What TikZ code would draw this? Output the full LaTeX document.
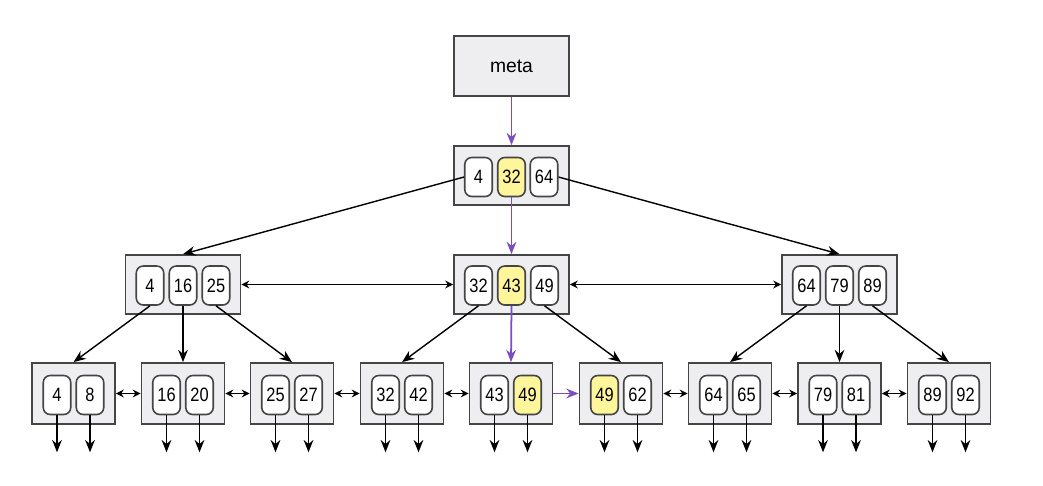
\documentclass[tikz,border=0pt]{standalone}
\usepackage{fontspec}
\setmainfont{Liberation Sans}
\newfontfamily\keyfont[FakeStretch=0.85]{Liberation Sans}
\usepackage{xcolor}
\usepackage{tikz}
\usetikzlibrary{arrows.meta}

\definecolor{boxfill}{HTML}{EEEEF0}
\definecolor{boxline}{HTML}{454545}
\definecolor{keyhot}{HTML}{FFF59A}
\definecolor{walkcol}{HTML}{7B4DBE}

\begin{document}
\begin{tikzpicture}[x=0.02cm, y=-0.02cm,
    box/.style={draw=boxline, fill=boxfill, line width=1pt, minimum width=2.3cm, minimum height=1.18cm, inner sep=0pt},
    leaf/.style={box, minimum width=1.66cm, minimum height=1.22cm},
    key/.style={draw=boxline, fill=white, line width=0.9pt, rounded corners=4pt, minimum width=0.55cm, minimum height=0.78cm, inner sep=0pt, font=\keyfont\fontsize{11}{11}\selectfont},
    hot/.style={key, fill=keyhot},
    link/.style={-{Stealth[length=7pt,width=5.5pt]}, line width=0.8pt},
    walk/.style={link, draw=walkcol, fill=walkcol, line width=1pt},
    twin/.style={{Stealth[length=4.5pt,width=4.5pt]}-{Stealth[length=4.5pt,width=4.5pt]}, line width=0.8pt}]
    \useasboundingbox (0,0) rectangle (1043,485);

    % Meta page
    \node[box, minimum height=1.2cm, font=\fontsize{11}{11}\selectfont] (meta) at (511.5,66) {meta};

    % Root
    \node[box] (root) at (511.5,175.5) {};
    \node[key] (r4) at (478.5,177) {4};
    \node[hot] (r32) at (511.5,177) {32};
    \node[key] (r64) at (544,177) {64};

    % Internal level
    \node[box] (inl) at (183,284.5) {};
    \node[key] (il4) at (150,285.5) {4};
    \node[key] (il16) at (183,285.5) {16};
    \node[key] (il25) at (216,285.5) {25};

    \node[box] (inm) at (511.5,284.5) {};
    \node[key] (im32) at (478.5,285.5) {32};
    \node[hot] (im43) at (511.5,285.5) {43};
    \node[key] (im49) at (544.5,285.5) {49};

    \node[box] (inr) at (839.5,284.5) {};
    \node[key] (ir64) at (806.5,285.5) {64};
    \node[key] (ir79) at (839.5,285.5) {79};
    \node[key] (ir89) at (872.5,285.5) {89};

    % Leaves
    \node[leaf] (lf1) at (73.5,393.5) {};
    \node[key] (lf1a) at (57,395) {4};
    \node[key] (lf1b) at (90,395) {8};
    \node[leaf] (lf2) at (183,393.5) {};
    \node[key] (lf2a) at (166.5,395) {16};
    \node[key] (lf2b) at (199.5,395) {20};
    \node[leaf] (lf3) at (292,393.5) {};
    \node[key] (lf3a) at (275.5,395) {25};
    \node[key] (lf3b) at (308.5,395) {27};
    \node[leaf] (lf4) at (402,393.5) {};
    \node[key] (lf4a) at (385.5,395) {32};
    \node[key] (lf4b) at (418.5,395) {42};
    \node[leaf] (lf5) at (511,393.5) {};
    \node[key] (lf5a) at (494.5,395) {43};
    \node[hot] (lf5b) at (527.5,395) {49};
    \node[leaf] (lf6) at (621,393.5) {};
    \node[hot] (lf6a) at (604.5,395) {49};
    \node[key] (lf6b) at (637.5,395) {62};
    \node[leaf] (lf7) at (730,393.5) {};
    \node[key] (lf7a) at (713.5,395) {64};
    \node[key] (lf7b) at (746.5,395) {65};
    \node[leaf] (lf8) at (839.5,393.5) {};
    \node[key] (lf8a) at (823,395) {79};
    \node[key] (lf8b) at (856,395) {81};
    \node[leaf] (lf9) at (949,393.5) {};
    \node[key] (lf9a) at (932.5,395) {89};
    \node[key] (lf9b) at (965.5,395) {92};

    % Search path
    \draw[walk] (meta) -- (root);
    \draw[walk] (r32.south) -- (inm.north);
    \draw[walk] (im43.south) -- (lf5.north);
    \draw[walk] (lf5) -- (lf6);

    % Tree links
    \draw[link] (r4.west) -- (inl.north);
    \draw[link] (r64.east) -- (inr.north);
    \draw[link] (il4.south) -- (lf1.north);
    \draw[link] (il16.south) -- (lf2.north);
    \draw[link] (il25.south) -- (lf3.north);
    \draw[link] (im32.south) -- (lf4.north);
    \draw[link] (im49.south) -- (lf6.north);
    \draw[link] (ir64.south) -- (lf7.north);
    \draw[link] (ir79.south) -- (lf8.north);
    \draw[link] (ir89.south) -- (lf9.north);

    % Sibling links
    \draw[twin] (inl) -- (inm);
    \draw[twin] (inm) -- (inr);
    \draw[twin] (lf1) -- (lf2);
    \draw[twin] (lf2) -- (lf3);
    \draw[twin] (lf3) -- (lf4);
    \draw[twin] (lf4) -- (lf5);
    \draw[twin] (lf6) -- (lf7);
    \draw[twin] (lf7) -- (lf8);
    \draw[twin] (lf8) -- (lf9);

    % Record pointers
    \foreach \k in {lf1a,lf1b,lf2a,lf2b,lf3a,lf3b,lf4a,lf4b,lf5a,lf5b,lf6a,lf6b,lf7a,lf7b,lf8a,lf8b,lf9a,lf9b}
        \draw[link] (\k.south) -- ++(0,37);
\end{tikzpicture}
\end{document}
